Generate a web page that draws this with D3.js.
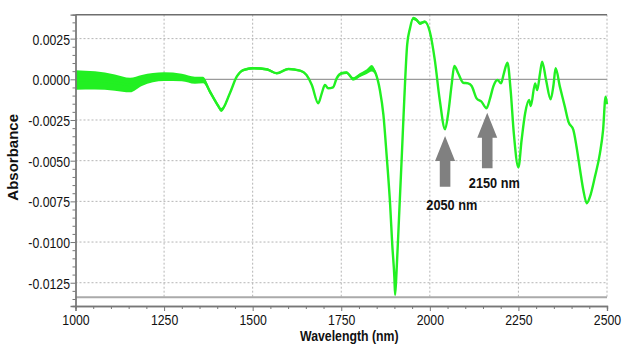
<!DOCTYPE html>
<html>
<head>
<meta charset="utf-8">
<script src="https://cdn.jsdelivr.net/npm/d3@7"></script>
<style>
  body { margin: 0; background: #fff; }
  svg { display: block; }
  text { font-family: "Liberation Sans", Arial, sans-serif; fill: #111; }
</style>
</head>
<body>
<div id="chart"></div>
<script>
// wavelength (nm), absorbance and the half-width of the noisy band
const wavelengths = [1000, 1055, 1111, 1154, 1187, 1250, 1300, 1337, 1360, 1380, 1403, 1411, 1436, 1455, 1474, 1502, 1540, 1568, 1601, 1634, 1652, 1667, 1685, 1695, 1704, 1713, 1727, 1737, 1751, 1765, 1784, 1803, 1822, 1836, 1847, 1859, 1869, 1878, 1888, 1894, 1900, 1902, 1906, 1913, 1921, 1928, 1936, 1944, 1953, 1963, 1972, 1986, 2000, 2014, 2028, 2043, 2052, 2062, 2069, 2080, 2094, 2108, 2118, 2132, 2146, 2160, 2170, 2179, 2191, 2201, 2209, 2219, 2228, 2237, 2250, 2259, 2269, 2280, 2285, 2297, 2303, 2311, 2317, 2328, 2341, 2349, 2355, 2367, 2381, 2391, 2405, 2414, 2424, 2433, 2443, 2452, 2466, 2480, 2489, 2496, 2500];
const absorbance = [-0.00004, -0.00007, -0.0002, -0.00035, -0.00007, 0.00016, 0.00011, -0.00006, -0.00004, -0.00078, -0.00164, -0.00189, -0.00084, 0.00016, 0.00057, 0.00068, 0.00061, 0.00037, 0.00063, 0.00053, 0.00026, -0.00035, -0.00147, -0.00086, -0.00035, -0.00055, -0.00049, 0.00006, 0.00037, 0.00041, 0.00002, 0.00026, 0.00047, 0.00068, 0.00037, -0.00066, -0.00219, -0.00465, -0.00772, -0.01018, -0.0122, -0.01325, -0.01184, -0.00852, -0.00465, -0.00117, 0.00211, 0.00313, 0.00375, 0.00364, 0.00344, 0.00354, 0.00292, 0.00119, -0.00127, -0.00307, -0.00207, -0.00025, 0.00082, 0.00037, -0.00021, -0.00025, -0.00041, -0.00117, -0.00138, -0.00178, -0.00117, -0.00045, -0.00004, -0.00025, 0.00037, 0.00102, -0.00066, -0.00332, -0.00541, -0.00373, -0.00209, -0.00127, -0.00164, -0.00025, -0.00066, 0.00037, 0.00108, -0.00004, -0.00123, -0.00035, 0.00068, -0.00045, -0.00168, -0.0026, -0.00311, -0.00414, -0.00557, -0.00679, -0.00762, -0.00721, -0.00598, -0.00455, -0.00311, -0.00107, -0.00152];
const noise = [0.0006, 0.00056, 0.0005, 0.00045, 0.00034, 0.00027, 0.00023, 0.00022, 0.0002, 0.00015, 0.00013, 0.00012, 0.0001, 0.00008, 0.00008, 0.00008, 0.00008, 0.00006, 0.00006, 0.00006, 0.00005, 0.00005, 0.00005, 0.00005, 0.00005, 0.00005, 0.00005, 0.00006, 0.00008, 0.00008, 0.0001, 0.00012, 0.00015, 0.0002, 0.00012, 0.00005, 0, 0, 0, 0, 0, 0, 0, 0, 0, 0, 0, 0.00005, 0.0001, 0.0001, 0.0001, 0.00008, 0.00005, 0, 0, 0, 0, 0, 0, 0.00004, 0.00004, 0.00004, 0.00004, 0.00004, 0.00004, 0, 0, 0, 0, 0, 0, 0, 0, 0, 0, 0, 0, 0, 0, 0, 0, 0, 0, 0.00004, 0.00004, 0.00004, 0.00004, 0.00005, 0.00005, 0.00005, 0.00005, 0.00005, 0.00005, 0.00005, 0.00005, 0.00004, 0.00004, 0.00004, 0.00004, 0.00004, 0];

const xTicks = [1000, 1250, 1500, 1750, 2000, 2250, 2500];
const yTicks = [0.0025, 0, -0.0025, -0.005, -0.0075, -0.01, -0.0125];
const yTickLabels = ["0.0025", "0.0000", "-0.0025", "-0.0050", "-0.0075", "-0.0100", "-0.0125"];
const lowerRule = -0.01339;

// arrows: wavelength, tip value, tail value; labels: text, wavelength, baseline value
const arrowWl = [2043, 2162];
const arrowTip = [-0.00348, -0.00205];
const arrowTail = [-0.0066, -0.00547];
const noteText = ["2050 nm", "2150 nm"];
const noteWl = [2062, 2182];
const noteY = [-0.00803, -0.0067];

const width = 622, height = 347;
const squeeze = 0.82; // the picture's text is narrow

const svg = d3.select("#chart").append("svg")
  .attr("width", width)
  .attr("height", height);

const x = d3.scaleLinear().domain([1000, 2500]).range([75.5, 607]);
const y = d3.scaleLinear().domain([-0.01393, 0.00397]).range([306, 14.7]);
const plotBottom = y(lowerRule);

// grid
svg.append("g")
  .selectAll("line")
  .data(xTicks.slice(1))
  .join("line")
  .attr("x1", d => x(d)).attr("x2", d => x(d))
  .attr("y1", y.range()[1]).attr("y2", plotBottom)
  .attr("stroke", "#b5b5b5")
  .attr("stroke-dasharray", "2,2");

svg.append("g")
  .selectAll("line")
  .data(yTicks.filter(d => d !== 0))
  .join("line")
  .attr("x1", x(1000)).attr("x2", x(2500))
  .attr("y1", d => y(d)).attr("y2", d => y(d))
  .attr("stroke", "#b5b5b5")
  .attr("stroke-dasharray", "2,2");

// zero line, top frame, lower rule
svg.append("line")
  .attr("x1", x(1000)).attr("x2", x(2500))
  .attr("y1", y(0)).attr("y2", y(0))
  .attr("stroke", "#9a9a9a").attr("stroke-width", 1.2);

svg.append("line")
  .attr("x1", x(1000)).attr("x2", x(2500))
  .attr("y1", y.range()[1]).attr("y2", y.range()[1])
  .attr("stroke", "#6e6e6e").attr("stroke-width", 1.5);

svg.append("line")
  .attr("x1", x(1000)).attr("x2", x(2500))
  .attr("y1", plotBottom).attr("y2", plotBottom)
  .attr("stroke", "#aaaaaa").attr("stroke-width", 2);

// curve
const data = wavelengths.map((w, i) => ({ w: w, v: absorbance[i], n: noise[i] }));

svg.append("path")
  .datum(data)
  .attr("fill", "#22f022")
  .attr("d", d3.area()
    .x(d => x(d.w))
    .y0(d => y(d.v - d.n))
    .y1(d => y(d.v + d.n))
    .curve(d3.curveMonotoneX));

svg.append("path")
  .datum(data)
  .attr("fill", "none")
  .attr("stroke", "#22f022")
  .attr("stroke-width", 2.4)
  .attr("stroke-linejoin", "round")
  .attr("d", d3.line()
    .x(d => x(d.w))
    .y(d => y(d.v))
    .curve(d3.curveMonotoneX));

// axes
const xAxis = svg.append("g")
  .attr("transform", `translate(0,${y.range()[0]})`)
  .call(d3.axisBottom(x).tickValues(xTicks).tickSize(5).tickFormat(d => d));
const xMinor = svg.append("g")
  .attr("transform", `translate(0,${y.range()[0]})`)
  .call(d3.axisBottom(x).tickValues(d3.range(1050, 2500, 50).filter(d => d % 250)).tickSize(3).tickFormat(""));

const yAxis = svg.append("g")
  .attr("transform", `translate(${x(1000)},0)`)
  .call(d3.axisLeft(y).tickValues(yTicks).tickSize(5).tickFormat((d, i) => yTickLabels[i]));
const yMinor = svg.append("g")
  .attr("transform", `translate(${x(1000)},0)`)
  .call(d3.axisLeft(y).tickValues(d3.range(-135, 40, 5).map(d => d / 10000).filter(d => Math.round(d * 10000) % 25)).tickSize(3).tickFormat(""));

[xAxis, xMinor, yAxis, yMinor].forEach(g => {
  g.select(".domain").attr("stroke", "#777").attr("stroke-width", 1.3);
  g.selectAll(".tick line").attr("stroke", "#777");
});

xAxis.selectAll(".tick text")
  .attr("font-size", 15)
  .attr("y", 8)
  .attr("dy", "0.71em")
  .attr("transform", `scale(${squeeze},1)`);

yAxis.selectAll(".tick text")
  .attr("font-size", 15)
  .attr("x", -5.5 / squeeze)
  .attr("dy", "0.36em")
  .attr("transform", `scale(${squeeze},1)`);

// axis titles
svg.append("text")
  .attr("transform", `translate(${(x.range()[0] + x.range()[1]) / 2 + 8},341) scale(${squeeze},1)`)
  .attr("text-anchor", "middle")
  .attr("font-size", 15)
  .attr("font-weight", "bold")
  .text("Wavelength (nm)");

svg.append("text")
  .attr("transform", `translate(18,${(y.range()[0] + y.range()[1]) / 2 - 3}) rotate(-90)`)
  .attr("text-anchor", "middle")
  .attr("font-size", 15)
  .attr("font-weight", "bold")
  .text("Absorbance");

// arrows
const arrows = arrowWl.map((w, i) => ({ w: w, tip: y(arrowTip[i]), tail: y(arrowTail[i]) }));
svg.append("g")
  .selectAll("path")
  .data(arrows)
  .join("path")
  .attr("fill", "#808080")
  .attr("d", d => {
    const cx = x(d.w), head = 25, hw = 10, sw = 5.3;
    return `M${cx},${d.tip} L${cx + hw},${d.tip + head} L${cx + sw},${d.tip + head} L${cx + sw},${d.tail}` +
      ` L${cx - sw},${d.tail} L${cx - sw},${d.tip + head} L${cx - hw},${d.tip + head} Z`;
  });

svg.append("g")
  .selectAll("text")
  .data(noteText)
  .join("text")
  .attr("transform", (d, i) => `translate(${x(noteWl[i])},${y(noteY[i])}) scale(0.85,1)`)
  .attr("text-anchor", "middle")
  .attr("font-size", 15)
  .attr("font-weight", "bold")
  .text(d => d);
</script>
</body>
</html>
